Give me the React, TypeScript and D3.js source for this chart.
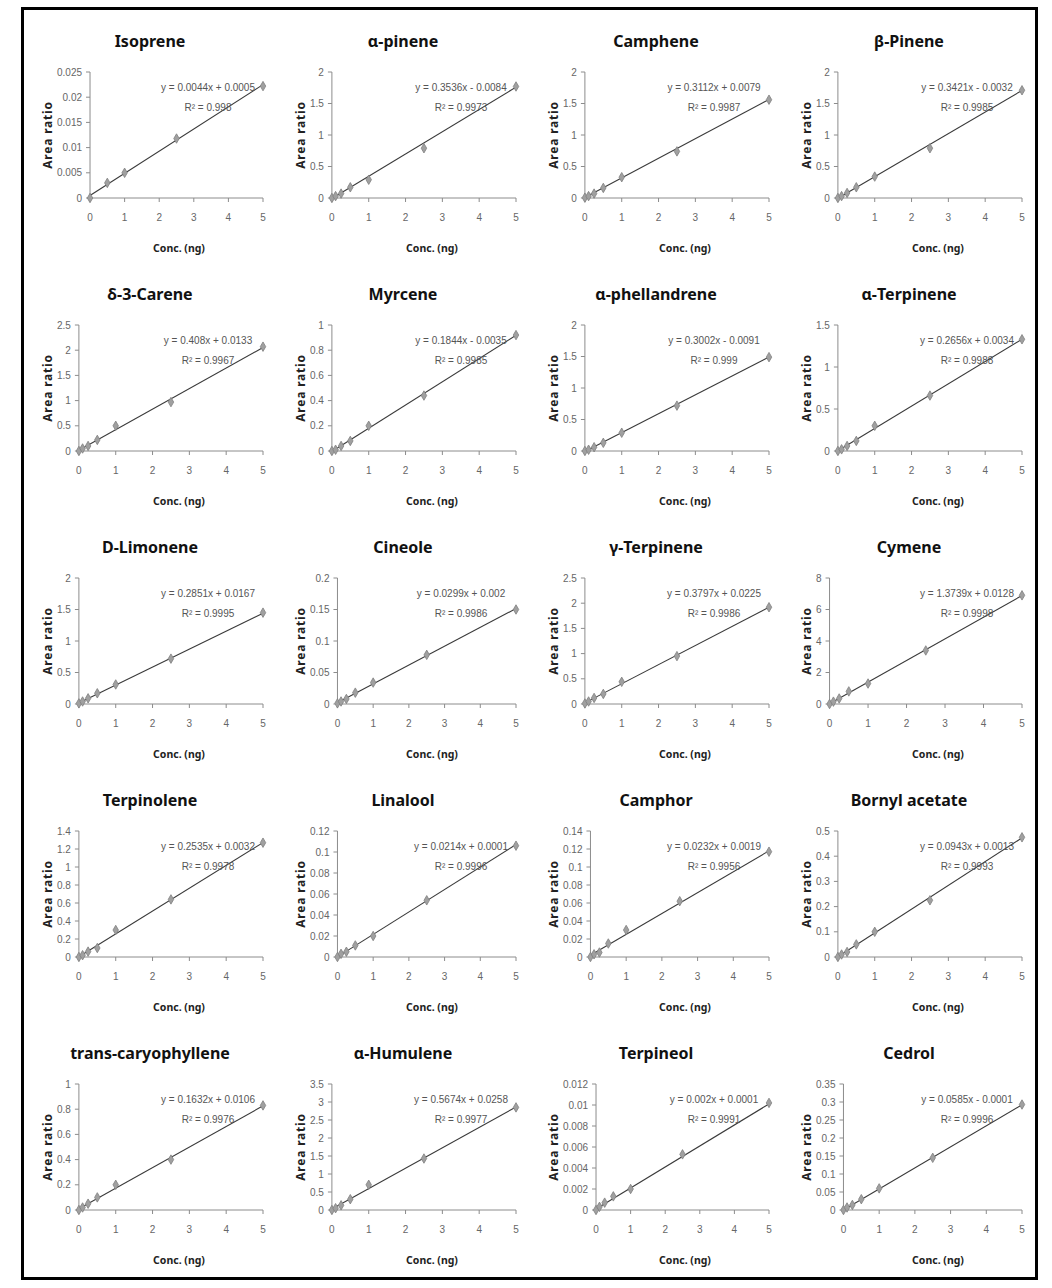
import React, { useMemo } from "react";
import * as d3 from "d3";

const names = [
  "Isoprene", "α-pinene", "Camphene", "β-Pinene",
  "δ-3-Carene", "Myrcene", "α-phellandrene", "α-Terpinene",
  "D-Limonene", "Cineole", "γ-Terpinene", "Cymene",
  "Terpinolene", "Linalool", "Camphor", "Bornyl acetate",
  "trans-caryophyllene", "α-Humulene", "Terpineol", "Cedrol",
];

const yMaxes = [0.025, 2, 2, 2, 2.5, 1, 2, 1.5, 2, 0.2, 2.5, 8, 1.4, 0.12, 0.14, 0.5, 1, 3.5, 0.012, 0.35];
const ySteps = [0.005, 0.5, 0.5, 0.5, 0.5, 0.2, 0.5, 0.5, 0.5, 0.05, 0.5, 2, 0.2, 0.02, 0.02, 0.1, 0.2, 0.5, 0.002, 0.05];

const slopes = [0.0044, 0.3536, 0.3112, 0.3421, 0.408, 0.1844, 0.3002, 0.2656, 0.2851, 0.0299, 0.3797, 1.3739, 0.2535, 0.0214, 0.0232, 0.0943, 0.1632, 0.5674, 0.002, 0.0585];
const intercepts = [0.0005, -0.0084, 0.0079, -0.0032, 0.0133, -0.0035, -0.0091, 0.0034, 0.0167, 0.002, 0.0225, 0.0128, 0.0032, 0.0001, 0.0019, 0.0013, 0.0106, 0.0258, 0.0001, -0.0001];
const equations = [
  "y = 0.0044x + 0.0005", "y = 0.3536x - 0.0084", "y = 0.3112x + 0.0079", "y = 0.3421x - 0.0032",
  "y = 0.408x + 0.0133", "y = 0.1844x - 0.0035", "y = 0.3002x - 0.0091", "y = 0.2656x + 0.0034",
  "y = 0.2851x + 0.0167", "y = 0.0299x + 0.002", "y = 0.3797x + 0.0225", "y = 1.3739x + 0.0128",
  "y = 0.2535x + 0.0032", "y = 0.0214x + 0.0001", "y = 0.0232x + 0.0019", "y = 0.0943x + 0.0013",
  "y = 0.1632x + 0.0106", "y = 0.5674x + 0.0258", "y = 0.002x + 0.0001", "y = 0.0585x - 0.0001",
];
const r2s = [
  "0.998", "0.9973", "0.9987", "0.9985",
  "0.9967", "0.9985", "0.999", "0.9988",
  "0.9995", "0.9986", "0.9986", "0.9998",
  "0.9978", "0.9996", "0.9956", "0.9993",
  "0.9976", "0.9977", "0.9991", "0.9996",
];

const concs = [0, 0.1, 0.25, 0.5, 1, 2.5, 5];
const isopreneConcs = [0, 0.5, 1, 2.5, 5];

const ratios: number[][] = [
  [0, 0.003, 0.005, 0.0118, 0.0222],
  [0, 0.03, 0.07, 0.17, 0.29, 0.79, 1.77],
  [0.005, 0.03, 0.07, 0.16, 0.33, 0.74, 1.56],
  [0, 0.03, 0.08, 0.17, 0.34, 0.79, 1.71],
  [0, 0.05, 0.1, 0.22, 0.5, 0.97, 2.07],
  [0, 0.01, 0.04, 0.08, 0.2, 0.44, 0.92],
  [0, 0.02, 0.06, 0.13, 0.29, 0.72, 1.49],
  [0, 0.02, 0.06, 0.12, 0.3, 0.66, 1.33],
  [0.01, 0.04, 0.09, 0.17, 0.31, 0.72, 1.45],
  [0.001, 0.004, 0.008, 0.018, 0.034, 0.078, 0.15],
  [0.01, 0.05, 0.12, 0.2, 0.44, 0.95, 1.92],
  [0, 0.15, 0.35, 0.8, 1.3, 3.4, 6.9],
  [0, 0.02, 0.06, 0.1, 0.3, 0.64, 1.27],
  [0, 0.003, 0.005, 0.011, 0.02, 0.054, 0.106],
  [0, 0.003, 0.005, 0.015, 0.03, 0.062, 0.117],
  [0, 0.01, 0.02, 0.05, 0.1, 0.225, 0.475],
  [0, 0.02, 0.05, 0.1, 0.2, 0.4, 0.83],
  [0, 0.05, 0.13, 0.3, 0.7, 1.43, 2.85],
  [0, 0.0003, 0.0007, 0.0013, 0.002, 0.0053, 0.0102],
  [0, 0.007, 0.014, 0.03, 0.06, 0.145, 0.293],
];

const xTicks = [0, 1, 2, 3, 4, 5];
const xLabel = "Conc. (ng)";
const yLabel = "Area ratio";

const TICK_FONT = "10px 'Liberation Sans'";
const fmt = (v: number) => String(+v.toFixed(6));

function Panel({ i, measure }: { i: number; measure: (s: string) => number }) {
  const c = i % 4;
  const r = Math.floor(i / 4);
  const ox = 253 * c;
  const oy = 253 * r;
  const yTicks = d3.range(0, yMaxes[i] + ySteps[i] / 2, ySteps[i]).map((v) => +v.toFixed(6));
  const labels = yTicks.map(fmt);
  const maxW = d3.max(labels, (s) => measure(s)) as number;
  const left = ox + 56 + maxW + 9;
  const right = ox + 263;
  const top = oy + 72;
  const bottom = oy + 198;
  const x = d3.scaleLinear().domain([0, 5]).range([left, right]);
  const y = d3.scaleLinear().domain([0, yMaxes[i]]).range([bottom, top]);
  const xs = i === 0 ? isopreneConcs : concs;
  const pts = xs.map((xv, k) => [xv, ratios[i][k]] as [number, number]);
  const line = d3.line<number>().x((v) => x(v)).y((v) => y(slopes[i] * v + intercepts[i]));
  const diamond = d3.symbol().type(d3.symbolDiamond).size(26)();
  const axisColor = "#8c8c8c";
  return (
    <g>
      <text x={ox + 150} y={oy + 47} textAnchor="middle" fontFamily="'Noto Sans', sans-serif" fontWeight="bold" fontSize={16} fill="#111">
        {names[i]}
      </text>
      <line x1={left} x2={left} y1={top} y2={bottom} stroke={axisColor} strokeWidth={1} />
      <line x1={left} x2={right} y1={bottom} y2={bottom} stroke={axisColor} strokeWidth={1} />
      {yTicks.map((t, k) => (
        <g key={"y" + k}>
          <line x1={left - 4} x2={left} y1={y(t)} y2={y(t)} stroke={axisColor} />
          <text x={left - 8} y={y(t)} dy="0.35em" textAnchor="end" fontFamily="'Liberation Sans', sans-serif" fontSize={10} fill="#666">
            {labels[k]}
          </text>
        </g>
      ))}
      {xTicks.map((t) => (
        <g key={"x" + t}>
          <line x1={x(t)} x2={x(t)} y1={bottom} y2={bottom + 4} stroke={axisColor} />
          <text x={x(t)} y={bottom + 22.5} textAnchor="middle" fontFamily="'Liberation Sans', sans-serif" fontSize={10} fill="#666">
            {t}
          </text>
        </g>
      ))}
      <text
        transform={`translate(${ox + 48},${(top + bottom) / 2}) rotate(-90)`}
        dy="0.35em"
        textAnchor="middle"
        fontFamily="'Noto Sans', sans-serif"
        fontWeight="bold"
        fontSize={12}
        letterSpacing={0.8}
        fill="#222"
      >
        {yLabel}
      </text>
      <text x={ox + 179} y={oy + 252} textAnchor="middle" fontFamily="'Noto Sans', sans-serif" fontWeight="bold" fontSize={10.5} fill="#222">
        {xLabel}
      </text>
      <path d={line([0, 5]) as string} fill="none" stroke="#3a3a3a" strokeWidth={1.1} />
      {pts.map(([xv, yv], k) => (
        <path key={"p" + k} d={diamond as string} transform={`translate(${x(xv)},${y(yv)})`} fill="#a0a0a0" stroke="#808080" strokeWidth={0.8} />
      ))}
      <text x={right - 55} y={top + 19} textAnchor="middle" fontFamily="'Liberation Sans', sans-serif" fontSize={10} fill="#555">
        {equations[i]}
      </text>
      <text x={right - 55} y={top + 39} textAnchor="middle" fontFamily="'Liberation Sans', sans-serif" fontSize={10} fill="#555">
        {"R² = " + r2s[i]}
      </text>
    </g>
  );
}

export default function App() {
  const measure = useMemo(() => {
    const ctx = document.createElement("canvas").getContext("2d") as CanvasRenderingContext2D;
    ctx.font = TICK_FONT;
    return (s: string) => ctx.measureText(s).width;
  }, []);
  return (
    <svg width={1052} height={1288} style={{ position: "absolute", left: 0, top: 0, background: "#fff" }}>
      <rect x={0} y={0} width={1052} height={1288} fill="#fff" />
      <rect x={22.5} y={8.5} width={1014} height={1270} fill="none" stroke="#000" strokeWidth={3} />
      {names.map((_, i) => (
        <Panel key={i} i={i} measure={measure} />
      ))}
    </svg>
  );
}
